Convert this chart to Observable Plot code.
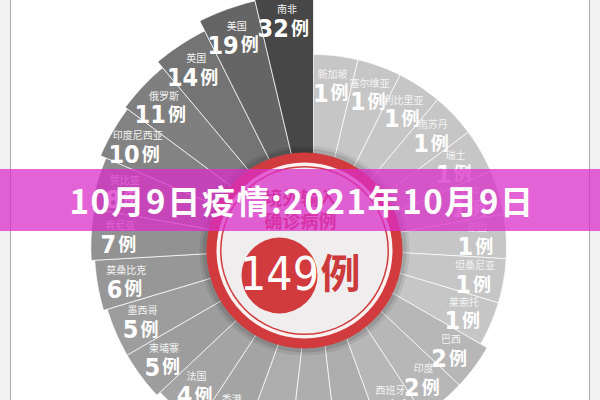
<!DOCTYPE html>
<html><head><meta charset="utf-8">
<script src="https://cdn.jsdelivr.net/npm/d3@7"></script>
<script src="https://cdn.jsdelivr.net/npm/@observablehq/plot@0.6"></script>
<style>
html,body{margin:0;padding:0;background:#f2f2f2;}
#wrap{position:relative;width:600px;height:400px;overflow:hidden;}
#panel{position:absolute;left:10px;top:0;width:578px;height:400px;background:#fff;border-left:1px solid #a9a9a9;border-right:1px solid #a9a9a9;}
#chart{position:absolute;left:0;top:0;}
#banner{position:absolute;left:0;top:169px;width:600px;height:62px;background:rgba(217,47,200,0.75);color:#fff;font-family:"Noto Sans CJK SC",sans-serif;font-weight:700;font-size:33px;display:flex;align-items:center;justify-content:center;letter-spacing:1.6px;padding-left:4px;box-sizing:border-box;}
</style></head>
<body><div id="wrap"><div id="panel"></div><div id="chart"></div><div id="banner">10月9日疫情:2021年10月9日</div></div>
<script>
// clockwise from 12 o'clock
const countries = ["新加坡","塞尔维亚","利比里亚","南苏丹","瑞士","日本","德国","坦桑尼亚","莱索托","巴西","印度","西班牙","菲律宾","埃塞俄比亚","巴基斯坦","香港","法国","柬埔寨","墨西哥","莫桑比克","肯尼亚","赞比亚","印度尼西亚","俄罗斯","英国","美国","南非"];
const cases = [1,1,1,1,1,1,1,1,1,2,2,2,3,3,3,4,4,5,5,6,7,8,10,11,14,19,32];
const centerTitle = ["境外输入","确诊病例"];
const unit = "例";

// layout (pixels)
const cx = 313, cy = 247;
const rOuter = v => 175 + 18 * Math.sqrt(v);
const n = countries.length, step = 360 / n, rad = Math.PI / 180;

const rows = countries.map((name, i) => ({name, value: cases[i], i}));
const poly = [];
for (const d of rows) {
  const r = rOuter(d.value);
  poly.push({name: d.name, value: d.value, x: 0, y: 0});
  const K = 12;
  for (let k = 0; k <= K; k++) {
    const t = (d.i + k / K) * step * rad;
    poly.push({name: d.name, value: d.value, x: r * Math.sin(t), y: r * Math.cos(t)});
  }
  poly.push({name: d.name, value: d.value, x: 0, y: 0});
}
const labels = rows.map(d => {
  const t = (d.i + 0.5) * step * rad;
  const lr = Math.min(rOuter(d.value) - 29, 229);
  const nd = String(d.value).length;
  return {...d, lx: lr * Math.sin(t), ly: lr * Math.cos(t), nd};
});
const total = d3.sum(cases);

const ring = {x: -9, y: -3};
const badge = {x: -34, y: -28};
const red = "#d13b3d";
const cjk = "Noto Sans CJK SC";
const narrow = "Liberation Sans Narrow, DejaVu Sans Condensed, sans-serif";

const chart = Plot.plot({
  width: 600, height: 400, margin: 0,
  x: {domain: [-cx, 600 - cx], range: [0, 600], axis: null},
  y: {domain: [-(400 - cy), cy], range: [400, 0], axis: null},
  color: {type: "pow", exponent: 0.35, domain: [1, 32], range: ["#c6c6c6", "#474747"], interpolate: "rgb"},
  style: {background: "transparent"},
  marks: [
    Plot.line(poly, {x: "x", y: "y", z: "name", fill: "value", stroke: "#ffffff", strokeWidth: 0.8, strokeOpacity: 0.9}),
    Plot.text(labels, {x: "lx", y: "ly", text: "name", dy: -10, fill: "#f3f3f3", fontSize: 10, fontFamily: cjk}),
    Plot.text(labels, {x: d => d.lx + 6 * d.nd - 10, y: "ly", text: d => String(d.value), dy: 9, textAnchor: "end", fill: "#ffffff", fontSize: 25, fontWeight: "bold", fontFamily: narrow}),
    Plot.text(labels, {x: d => d.lx + 6 * d.nd - 8, y: "ly", text: () => unit, dy: 9, textAnchor: "start", fill: "#ffffff", fontSize: 18, fontWeight: "bold", fontFamily: cjk}),
    // center badge
    Plot.dot([ring], {x: "x", y: "y", r: 105, fill: "#000", fillOpacity: 0.07}),
    Plot.dot([ring], {x: "x", y: "y", r: 102, fill: "#000", fillOpacity: 0.1}),
    Plot.dot([ring], {x: "x", y: "y", r: 98, fill: red}),
    Plot.dot([ring], {x: "x", y: "y", r: 88, fill: "#fbf1f1"}),
    Plot.dot([ring], {x: "x", y: "y", r: 84.5, fill: red}),
    Plot.dot([ring], {x: "x", y: "y", r: 83, fill: "#efeded"}),
    Plot.dot([badge], {x: "x", y: "y", r: 38, fill: red}),
    Plot.text([badge], {x: "x", y: "y", text: () => String(total), fill: "#fff", fontSize: 46, fontFamily: narrow}),
    Plot.text([badge], {x: d => d.x + 61, y: "y", text: () => unit, fill: "#cc3a3c", fontSize: 40, fontWeight: "bold", fontFamily: cjk}),
    Plot.text(centerTitle, {x: () => ring.x - 4, y: (d, i) => 48 - 23 * i, text: d => d, fill: "#cf4143", fontSize: 18, fontWeight: "bold", fontFamily: cjk})
  ]
});
document.getElementById("chart").appendChild(chart);
</script>
</body></html>
